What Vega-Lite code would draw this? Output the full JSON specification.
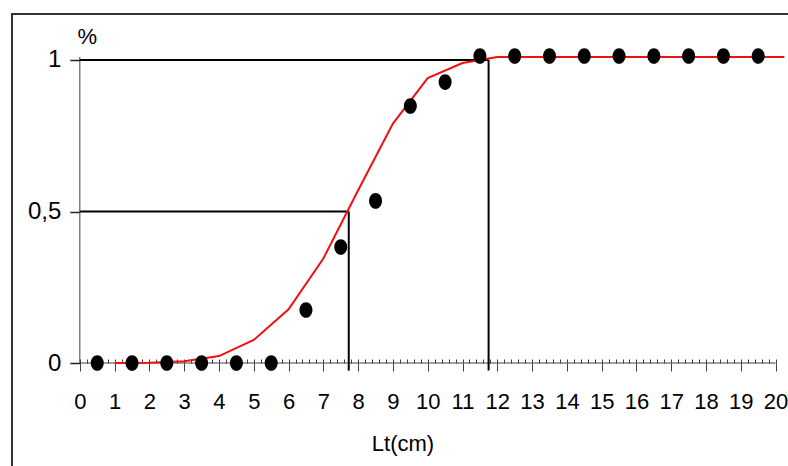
{
  "$schema": "https://vega.github.io/schema/vega-lite/v6.json",
  "autosize": {"type": "none"},
  "padding": {"left": 12, "top": 14, "right": 0, "bottom": 0},
  "width": 781,
  "height": 461,
  "background": "white",
  "config": {
    "view": {"stroke": "#333333", "strokeWidth": 2},
    "font": "Liberation Sans",
    "axis": {"grid": false, "domain": false, "labelColor": "black", "titleColor": "black", "titleFontWeight": "normal", "tickColor": "#404040"}
  },
  "datasets": {
    "axislines": [
      {"x": 0, "x2": 20, "y": 0, "y2": 0},
      {"x": 0, "x2": 0, "y": 0, "y2": 1.01}
    ],
    "refs": [
      {"x": 0, "x2": 7.73, "y": 0.5, "y2": 0.5},
      {"x": 7.73, "x2": 7.73, "y": -0.025, "y2": 0.5},
      {"x": 0, "x2": 11.75, "y": 1, "y2": 1},
      {"x": 11.75, "x2": 11.75, "y": -0.025, "y2": 1}
    ],
    "curve": [
      {"lt": 1, "p": 0}, {"lt": 2, "p": 0.001}, {"lt": 3, "p": 0.006}, {"lt": 4, "p": 0.023},
      {"lt": 5, "p": 0.076}, {"lt": 6, "p": 0.177}, {"lt": 7, "p": 0.345}, {"lt": 8, "p": 0.57},
      {"lt": 9, "p": 0.79}, {"lt": 10, "p": 0.94}, {"lt": 11, "p": 0.99}, {"lt": 12, "p": 1.01},
      {"lt": 13, "p": 1.01}, {"lt": 14, "p": 1.01}, {"lt": 15, "p": 1.01}, {"lt": 16, "p": 1.01},
      {"lt": 17, "p": 1.01}, {"lt": 18, "p": 1.01}, {"lt": 19, "p": 1.01}, {"lt": 20, "p": 1.01},
      {"lt": 20.25, "p": 1.01}
    ],
    "points": [
      {"lt": 0.5, "p": 0}, {"lt": 1.5, "p": 0}, {"lt": 2.5, "p": 0}, {"lt": 3.5, "p": 0},
      {"lt": 4.5, "p": 0}, {"lt": 5.5, "p": 0}, {"lt": 6.5, "p": 0.175}, {"lt": 7.5, "p": 0.383},
      {"lt": 8.5, "p": 0.535}, {"lt": 9.5, "p": 0.848}, {"lt": 10.5, "p": 0.927}, {"lt": 11.5, "p": 1.013},
      {"lt": 12.5, "p": 1.013}, {"lt": 13.5, "p": 1.013}, {"lt": 14.5, "p": 1.013}, {"lt": 15.5, "p": 1.013},
      {"lt": 16.5, "p": 1.013}, {"lt": 17.5, "p": 1.013}, {"lt": 18.5, "p": 1.013}, {"lt": 19.5, "p": 1.013}
    ]
  },
  "resolve": {"scale": {"x": "shared", "y": "shared"}, "axis": {"x": "independent", "y": "shared"}},
  "layer": [
    {
      "data": {"name": "axislines"},
      "mark": {"type": "rule", "color": "#404040", "strokeWidth": 1},
      "encoding": {
        "x": {
          "field": "x", "type": "quantitative",
          "scale": {"domain": [-1.95, 20.5], "nice": false, "zero": false},
          "axis": {
            "orient": "bottom", "offset": -112,
            "values": [0,1,2,3,4,5,6,7,8,9,10,11,12,13,14,15,16,17,18,19,20],
            "tickSize": 8, "tickWidth": 1,
            "labelPadding": 30, "labelBaseline": "middle", "labelFontSize": 22, "labelFlush": false, "labelOverlap": false,
            "title": "Lt(cm)", "titleFontSize": 22, "titleY": 80, "titleBaseline": "middle"
          }
        },
        "x2": {"field": "x2"},
        "y": {
          "field": "y", "type": "quantitative",
          "scale": {"domain": [-0.3696, 1.1518], "nice": false, "zero": false},
          "axis": {
            "orient": "left", "offset": -67.8,
            "values": [0, 0.5, 1],
            "tickSize": 10, "tickWidth": 1.5, "tickColor": "#222222",
            "labelPadding": 9, "labelFontSize": 24, "labelFlush": false,
            "labelExpr": "datum.value == 0.5 ? '0,5' : (datum.value == 1 ? '1' : '0')",
            "title": "%", "titleAngle": 0, "titleX": 7, "titleY": 22, "titleAlign": "center", "titleBaseline": "middle", "titleFontSize": 22
          }
        },
        "y2": {"field": "y2"}
      }
    },
    {
      "data": {"name": "refs"},
      "mark": {"type": "rule", "color": "black", "strokeWidth": 2},
      "encoding": {
        "x": {
          "field": "x", "type": "quantitative",
          "axis": {
            "orient": "bottom", "offset": -112,
            "values": [0,0.2,0.4,0.6,0.8,1,1.2,1.4,1.6,1.8,2,2.2,2.4,2.6,2.8,3,3.2,3.4,3.6,3.8,4,4.2,4.4,4.6,4.8,5,5.2,5.4,5.6,5.8,6,6.2,6.4,6.6,6.8,7,7.2,7.4,7.6,7.8,8,8.2,8.4,8.6,8.8,9,9.2,9.4,9.6,9.8,10,10.2,10.4,10.6,10.8,11,11.2,11.4,11.6,11.8,12,12.2,12.4,12.6,12.8,13,13.2,13.4,13.6,13.8,14,14.2,14.4,14.6,14.8,15,15.2,15.4,15.6,15.8,16,16.2,16.4,16.6,16.8,17,17.2,17.4,17.6,17.8,18,18.2,18.4,18.6,18.8,19,19.2,19.4,19.6,19.8,20],
            "tickSize": -4, "tickWidth": 1, "labels": false, "title": null
          }
        },
        "x2": {"field": "x2"},
        "y": {"field": "y", "type": "quantitative"},
        "y2": {"field": "y2"}
      }
    },
    {
      "data": {"name": "curve"},
      "mark": {"type": "line", "color": "#f01010", "strokeWidth": 2},
      "encoding": {
        "x": {"field": "lt", "type": "quantitative", "axis": null},
        "y": {"field": "p", "type": "quantitative"}
      }
    },
    {
      "data": {"name": "points"},
      "mark": {"type": "point", "filled": true, "color": "black", "opacity": 1, "size": 169, "shape": "M0,-1.2A1,1.2 0 1,1 0,1.2A1,1.2 0 1,1 0,-1.2Z"},
      "encoding": {
        "x": {"field": "lt", "type": "quantitative", "axis": null},
        "y": {"field": "p", "type": "quantitative"}
      }
    }
  ]
}
